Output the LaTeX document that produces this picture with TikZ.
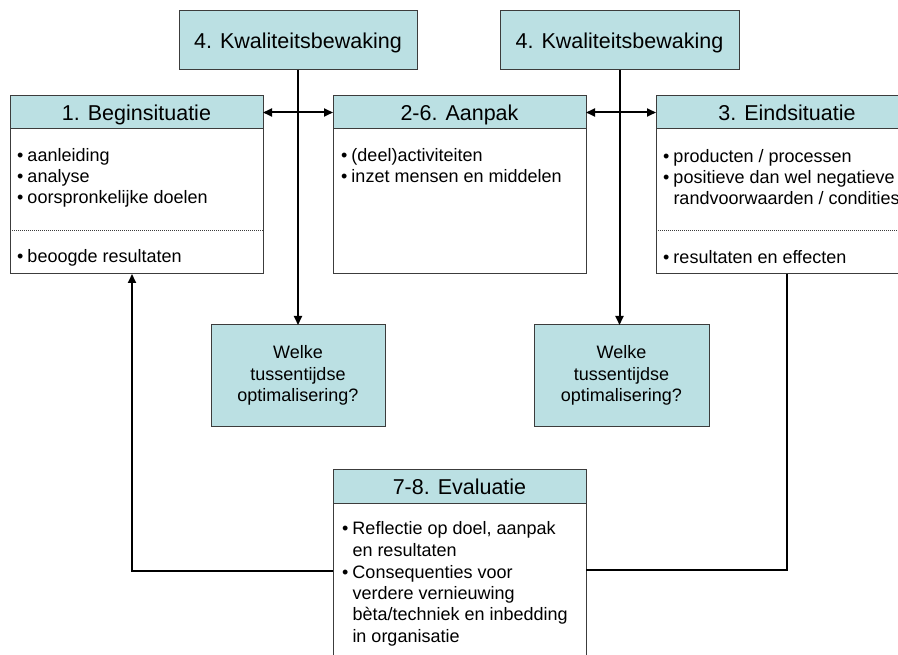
\documentclass[tikz,border=0pt]{standalone}
\usepackage{fontspec}
\setmainfont{Liberation Sans}
\usetikzlibrary{arrows.meta}

\definecolor{boxfill}{RGB}{187,224,227}
\definecolor{boxline}{RGB}{60,60,60}

% bullet with hanging indent, and an indented continuation line
\newcommand\bulletline[1]{\makebox[10.5pt][l]{•}#1}
\newcommand\contline[1]{\hspace*{10.5pt}#1}

\tikzset{
  plainbox/.style={draw=boxline, line width=1pt, inner sep=0pt, outer sep=0pt, anchor=north west},
  hdrbox/.style={plainbox, fill=boxfill, font=\fontsize{21.5}{26}\selectfont,
                 text height=16pt, text depth=0pt},
  bodybox/.style={plainbox, fill=white},
  askbox/.style={plainbox, fill=boxfill, align=center, font=\fontsize{18}{21.3}\selectfont},
  linetext/.style={anchor=base west, inner sep=0pt, outer sep=0pt, font=\fontsize{18}{21}\selectfont},
  connector/.style={line width=2pt, black},
  arrowend/.style={-{Triangle[length=9pt,width=8pt]}},
  twoway/.style={{Triangle[length=9pt,width=8pt]}-{Triangle[length=9pt,width=8pt]}},
  sepline/.style={line width=1pt, boxline, dash pattern=on 1pt off 1pt},
}

\begin{document}
\begin{tikzpicture}[x=1pt, y=-1pt]
  \useasboundingbox (0,0) rectangle (898,655);
  \clip (0,0) rectangle (898,655);

  % quality monitoring boxes
  \node[hdrbox, minimum width=238pt, minimum height=59pt] (k1) at (179,11) {4. Kwaliteitsbewaking};
  \node[hdrbox, minimum width=239pt, minimum height=59pt] (k2) at (500,11) {4. Kwaliteitsbewaking};

  % 1. Beginsituatie
  \node[bodybox, minimum width=253pt, minimum height=145pt] (b1) at (10,129) {};
  \node[hdrbox, minimum width=253pt, minimum height=33pt] (h1) at (10,96) {1. Beginsituatie};
  \coordinate (sepy) at (0,231);
  \draw[sepline] (b1.west |- sepy) -- (b1.east |- sepy);
  \node[linetext] (b1a) at (17,162) {\bulletline{aanleiding}};
  \node[linetext] (b1b) at (17,183) {\bulletline{analyse}};
  \node[linetext] (b1c) at (17,204) {\bulletline{oorspronkelijke doelen}};
  \node[linetext] (b1d) at (17,263) {\bulletline{beoogde resultaten}};

  % 2-6. Aanpak
  \node[bodybox, minimum width=253pt, minimum height=145pt] (b2) at (333,129) {};
  \node[hdrbox, minimum width=253pt, minimum height=33pt] (h2) at (333,96) {2-6. Aanpak};
  \node[linetext] (b2a) at (341,162) {\bulletline{(deel)activiteiten}};
  \node[linetext] (b2b) at (341,183) {\bulletline{inzet mensen en middelen}};

  % 3. Eindsituatie
  \node[bodybox, minimum width=262pt, minimum height=145pt] (b3) at (656,129) {};
  \node[hdrbox, minimum width=262pt, minimum height=33pt] (h3) at (656,96) {3. Eindsituatie};
  \draw[sepline] (b3.west |- sepy) -- (b3.east |- sepy);
  \node[linetext] (b3a) at (663,163) {\bulletline{producten / processen}};
  \node[linetext] (b3b) at (663,184) {\bulletline{positieve dan wel negatieve}};
  \node[linetext] (b3c) at (663,205) {\contline{randvoorwaarden / condities}};
  \node[linetext] (b3d) at (663,264) {\bulletline{resultaten en effecten}};

  % interim optimisation questions
  \node[askbox, minimum width=174pt, minimum height=101pt] (w1) at (211,325)
    {Welke\\tussentijdse\\optimalisering?};
  \node[askbox, minimum width=175pt, minimum height=101pt] (w2) at (534,325)
    {Welke\\tussentijdse\\optimalisering?};

  % 7-8. Evaluatie
  \node[bodybox, minimum width=253pt, minimum height=200pt] (eb) at (333,503) {};
  \node[hdrbox, minimum width=253pt, minimum height=34pt] (eh) at (333,469) {7-8. Evaluatie};
  \node[linetext] (e1) at (342,534) {\bulletline{Reflectie op doel, aanpak}};
  \node[linetext] (e2) at (342,556) {\contline{en resultaten}};
  \node[linetext] (e3) at (342,578) {\bulletline{Consequenties voor}};
  \node[linetext] (e4) at (342,599) {\contline{verdere vernieuwing}};
  \node[linetext] (e5) at (342,620) {\contline{bèta/techniek en inbedding}};
  \node[linetext] (e6) at (342,642) {\contline{in organisatie}};

  % connectors
  \draw[connector, arrowend] (k1.south) -- (k1.south |- w1.north);
  \draw[connector, arrowend] (k2.south) -- (k2.south |- w2.north);
  \draw[connector, twoway] (h1.east) -- (h2.west);
  \draw[connector, twoway] (h2.east) -- (h3.west);

  % feedback loops from the evaluation
  \coordinate (fbleft) at (132,571);
  \coordinate (fbright) at (787,570);
  \draw[connector, arrowend] (eb.west |- fbleft) -- (fbleft) -- (fbleft |- b1.south);
  \draw[connector] (fbright |- b3.south) -- (fbright) -- (fbright -| eb.east);
\end{tikzpicture}
\end{document}
